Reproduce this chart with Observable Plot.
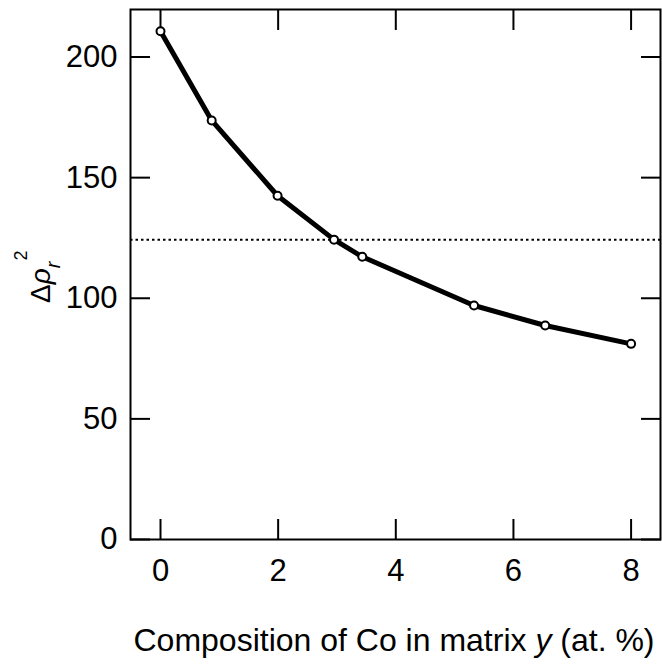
<!DOCTYPE html>
<html>
<head>
<meta charset="utf-8">
<script src="https://cdn.jsdelivr.net/npm/d3@7"></script>
<script src="https://cdn.jsdelivr.net/npm/@observablehq/plot@0.6"></script>
<style>
  html, body { margin: 0; padding: 0; background: #fff; }
  #chart svg { display: block; }
</style>
</head>
<body>
<div id="chart"></div>
<script>
// Co content in the matrix, y (at. %)
const coContent = [0, 0.87, 1.99, 2.95, 3.43, 5.33, 6.54, 8.0];
// Δρ_r² at each composition
const deltaRho = [210.7, 173.7, 142.5, 124.3, 117.2, 97.0, 88.7, 81.1];
// reference level (dotted horizontal line)
const referenceLevel = [124.3];
// axis ticks
const xTicks = [0, 2, 4, 6, 8];
const yTicks = [0, 50, 100, 150, 200];

const points = coContent.map((x, i) => ({x, y: deltaRho[i]}));

const font = "'Liberation Sans', Arial, sans-serif";

const chart = Plot.plot({
  width: 662,
  height: 668,
  marginLeft: 130,
  marginTop: 9,
  marginRight: 2,
  marginBottom: 129,
  style: {fontFamily: font, fontSize: "31px", color: "#000", background: "#fff"},
  x: {domain: [-0.51, 8.5]},
  y: {domain: [0, 219.7]},
  marks: [
    Plot.ruleY(referenceLevel, {stroke: "#000", strokeWidth: 2, strokeDasharray: "2.5,3"}),
    // tick labels
    Plot.axisX(xTicks, {anchor: "bottom", tickSize: 0, tickPadding: 19, label: null, fill: "#000"}),
    Plot.axisY(yTicks, {anchor: "left", tickSize: 0, tickPadding: 13, label: null, fill: "#000"}),
    // inward ticks on all four sides
    Plot.axisX(xTicks, {anchor: "bottom", tickSize: -20, text: null, label: null, strokeWidth: 2}),
    Plot.axisX(xTicks, {anchor: "top", tickSize: -20, text: null, label: null, strokeWidth: 2}),
    Plot.axisY(yTicks, {anchor: "left", tickSize: -20, text: null, label: null, strokeWidth: 2}),
    Plot.axisY(yTicks, {anchor: "right", tickSize: -20, text: null, label: null, strokeWidth: 2}),
    Plot.frame({stroke: "#000", strokeWidth: 2}),
    Plot.line(points, {x: "x", y: "y", stroke: "#000", strokeWidth: 5, strokeLinejoin: "round"}),
    Plot.dot(points, {x: "x", y: "y", r: 4, fill: "#fff", stroke: "#000", strokeWidth: 2})
  ]
});

const svg = d3.select(chart);

// x-axis title
const xTitle = svg.append("text")
  .attr("x", 394)
  .attr("y", 651)
  .attr("text-anchor", "middle")
  .attr("font-family", font)
  .attr("font-size", 32)
  .attr("fill", "#000");
xTitle.append("tspan").text("Composition of Co in matrix ");
xTitle.append("tspan").attr("font-style", "italic").text("y");
xTitle.append("tspan").text(" (at. %)");

// y-axis title: Δρ_r²
const yTitle = svg.append("text")
  .attr("transform", "translate(50,303) rotate(-90)")
  .attr("text-anchor", "start")
  .attr("font-family", font)
  .attr("font-size", 28)
  .attr("fill", "#000");
yTitle.append("tspan").text("Δ");
yTitle.append("tspan").attr("font-style", "italic").text("ρ");
yTitle.append("tspan").attr("font-style", "italic").attr("font-size", 20).attr("dy", 10).text("r");
yTitle.append("tspan").attr("font-size", 18).attr("dy", -33).attr("dx", 1).text("2");

document.getElementById("chart").appendChild(chart);
</script>
</body>
</html>
